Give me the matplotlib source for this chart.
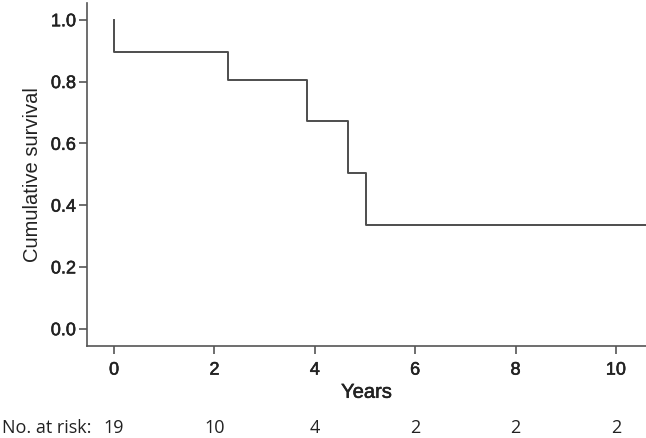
import matplotlib
matplotlib.use("Agg")
import matplotlib.pyplot as plt
import matplotlib.transforms as mtransforms
import matplotlib.patheffects as pe

# Kaplan-Meier step data
step_times = [0.0, 0.0, 2.26, 3.84, 4.67, 5.01, 10.6]
survival = [1.0, 0.895, 0.805, 0.671, 0.503, 0.335, 0.335]

risk_times = [0, 2, 4, 6, 8, 10]
at_risk = [19, 10, 4, 2, 2, 2]

x_ticks = [0, 2, 4, 6, 8, 10]
y_ticks = [0.0, 0.2, 0.4, 0.6, 0.8, 1.0]

plt.rcParams['font.family'] = ['Liberation Sans', 'DejaVu Sans']

fig = plt.figure(figsize=(6.46, 4.38), dpi=100)
ax = fig.add_axes([0.1347, 0.2093, 0.8653, 0.7837])

line_col = '#4d4d4d'
txt_col = '#222222'
heavy = [pe.withStroke(linewidth=0.4, foreground=txt_col)]

ax.plot(step_times, survival, drawstyle='steps-post', color=line_col, lw=1.4)

ax.set_xlim(-0.54, 10.6)
ax.set_ylim(-0.057, 1.054)
ax.set_xticks(x_ticks)
ax.set_yticks(y_ticks)
ax.set_yticklabels([f"{v:.1f}" for v in y_ticks])
ax.spines['top'].set_visible(False)
ax.spines['right'].set_visible(False)
for s in ['left', 'bottom']:
    ax.spines[s].set_color('#555555')
    ax.spines[s].set_linewidth(1.2)
ax.tick_params(direction='out', length=6, width=1.2, color='#555555',
               labelsize=13, labelcolor=txt_col)
ax.tick_params(axis='x', pad=5)
ax.tick_params(axis='y', pad=2)
for lab in ax.get_xticklabels() + ax.get_yticklabels():
    lab.set_path_effects(heavy)
ax.set_xlabel("Years", fontsize=14.5, color=txt_col, labelpad=3,
              path_effects=heavy)
ax.set_ylabel("Cumulative survival", fontsize=14.5, color=txt_col, labelpad=6)

# number-at-risk row
trans = mtransforms.blended_transform_factory(ax.transData, fig.transFigure)
risk_y = 1 - 428 / 438
for t, n in zip(risk_times, at_risk):
    ax.text(t, risk_y, str(n), transform=trans, ha='center', va='center',
            fontsize=13, family=['Open Sans', 'DejaVu Sans'], color=txt_col)
fig.text(0.003, risk_y, "No. at risk:", ha='left', va='center', fontsize=13,
         family=['Open Sans', 'DejaVu Sans'], color=txt_col)

fig.savefig("out.png", dpi=100, facecolor='white')
